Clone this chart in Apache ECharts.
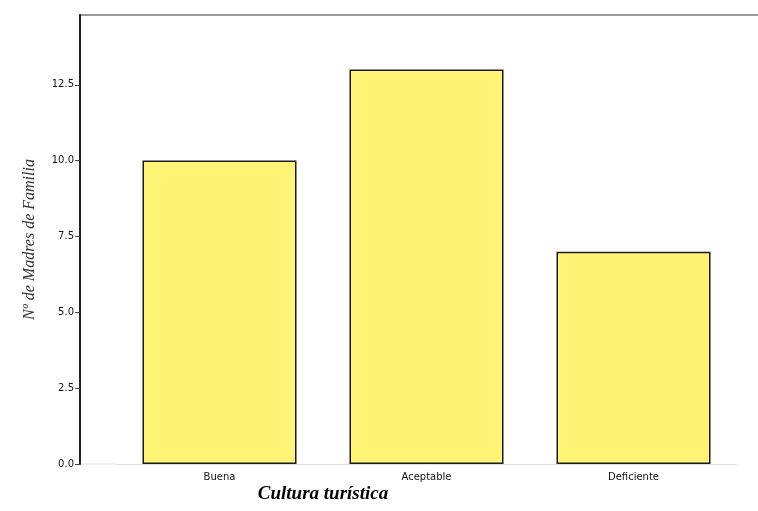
<!DOCTYPE html>
<html><head><meta charset="utf-8">
<script src="https://cdn.jsdelivr.net/npm/echarts@6/dist/echarts.min.js"></script>
<style>html,body{margin:0;padding:0;background:#fff}#c{width:758px;height:511px}</style>
</head><body><div id="c"></div>
<script>
const categories = ['Buena', 'Aceptable', 'Deficiente'];
const values = [10, 13, 7];
const yTicks = [0, 2.5, 5, 7.5, 10, 12.5];
const yTitle = 'Nº de Madres de Familia';
const xTitle = 'Cultura turística';

const chart = echarts.init(document.getElementById('c'), null, {renderer: 'canvas'});
chart.setOption({
  animation: false,
  backgroundColor: '#fff',
  title: {
    text: xTitle, left: 318, top: 480, textAlign: 'center',
    textStyle: {fontFamily: 'Liberation Serif', fontStyle: 'italic', fontWeight: 'bold', fontSize: 19, color: '#000'}
  },
  grid: {left: 116, width: 621, top: 15, bottom: 47},
  xAxis: {
    type: 'category', data: categories,
    axisLine: {lineStyle: {color: '#e2e2e2', width: 1}},
    axisTick: {alignWithLabel: true, length: 4, lineStyle: {color: '#999'}},
    axisLabel: {color: '#111', fontSize: 10, fontFamily: 'DejaVu Sans', margin: 8}
  },
  yAxis: {
    type: 'value', min: 0, max: 14.8, interval: 2.5, offset: 36,
    name: yTitle, nameLocation: 'middle', nameGap: 42, nameRotate: 90,
    nameTextStyle: {fontFamily: 'Liberation Serif', fontStyle: 'italic', fontSize: 16, color: '#333'},
    axisLine: {show: true, lineStyle: {color: '#222', width: 2}},
    axisTick: {show: true, length: 5, lineStyle: {color: '#444'}},
    axisLabel: {showMaxLabel: false, color: '#111', fontSize: 10, fontFamily: 'DejaVu Sans', margin: 6,
      formatter: v => v.toFixed(1)},
    splitLine: {show: false}
  },
  series: [{
    type: 'bar', data: values, barWidth: 154,
    itemStyle: {color: '#fff476', borderColor: '#1a1a1a', borderWidth: 1.5}
  }],
  graphic: [{
    type: 'line', shape: {x1: 79, y1: 15, x2: 758, y2: 15},
    style: {stroke: '#999', lineWidth: 2}
  }, {
    type: 'line', shape: {x1: 80, y1: 464, x2: 116, y2: 464},
    style: {stroke: '#e2e2e2', lineWidth: 1}
  }]
});
</script></body></html>
